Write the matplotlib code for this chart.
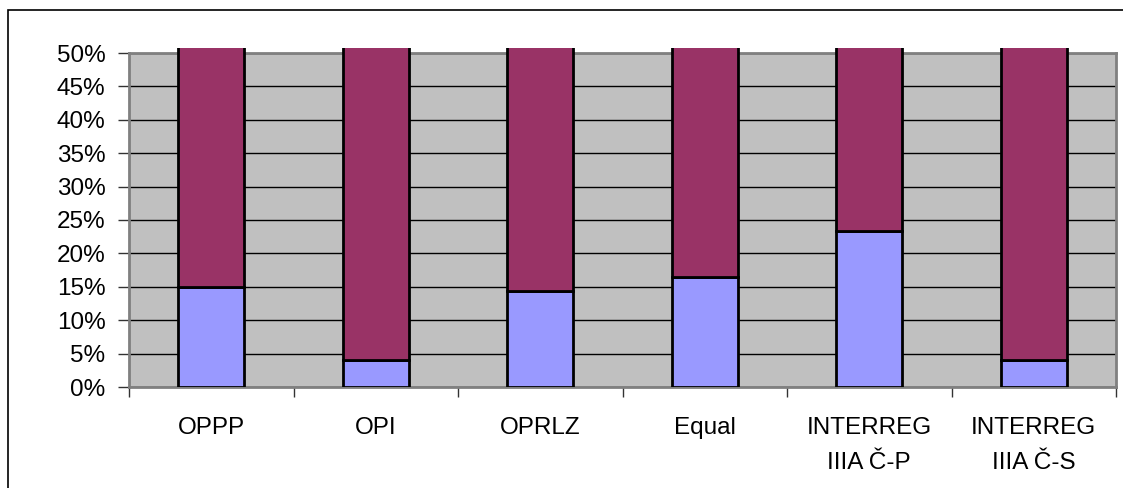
import matplotlib
matplotlib.use("Agg")
import numpy as np
import matplotlib.pyplot as plt
from matplotlib.patches import Rectangle
from matplotlib.ticker import MultipleLocator, FixedLocator, PercentFormatter

plt.rcParams['font.family'] = ['Liberation Sans', 'DejaVu Sans']

categories = ["OPPP", "OPI", "OPRLZ", "Equal", "INTERREG\nIIIA Č-P", "INTERREG\nIIIA Č-S"]
lower = [0.150, 0.041, 0.143, 0.165, 0.233, 0.040]
upper = [1 - v for v in lower]

fig = plt.figure(figsize=(11.23, 4.88), dpi=100)
# outer chart frame
fig.patches.append(Rectangle((8 / 1123, -0.1), 1.2, 1 - 10 / 488 + 0.1, transform=fig.transFigure,
                             fill=False, edgecolor='black', linewidth=1.2))
ax = fig.add_axes([129 / 1123, 1 - 387 / 488, (1116 - 129) / 1123, (387 - 53) / 488])
ax.set_facecolor('#C0C0C0')

x = np.arange(len(categories))
ax.bar(x, lower, width=0.4, color='#9999FF', edgecolor='black', linewidth=2, zorder=3)
tops = ax.bar(x, upper, bottom=lower, width=0.4, color='#993366', edgecolor='black', linewidth=2, zorder=3)
clip = Rectangle((0, 0), 1, 1.015, transform=ax.transAxes)
for b in tops:
    b.set_clip_path(clip)

ax.set_ylim(0, 0.5)
ax.set_xlim(-0.5, len(categories) - 0.5)
ax.yaxis.set_major_locator(MultipleLocator(0.05))
ax.yaxis.set_major_formatter(PercentFormatter(1.0, decimals=0))
ax.yaxis.grid(True, color='black', linewidth=1)
ax.set_axisbelow(True)

ax.set_xticks(x)
ax.set_xticklabels(categories, fontsize=17.5, linespacing=1.75)
ax.xaxis.set_minor_locator(FixedLocator(np.arange(-0.5, len(categories), 1.0)))
ax.tick_params(axis='x', which='major', length=0, pad=21.5)
ax.tick_params(axis='x', which='minor', length=7, width=1, color='#333333')
ax.tick_params(axis='y', length=8, width=1, labelsize=17.5, pad=9, color='#333333')

for side in ['top', 'right', 'bottom', 'left']:
    ax.spines[side].set_color('#808080')
    ax.spines[side].set_linewidth(2)

fig.savefig('out.png', dpi=100)
